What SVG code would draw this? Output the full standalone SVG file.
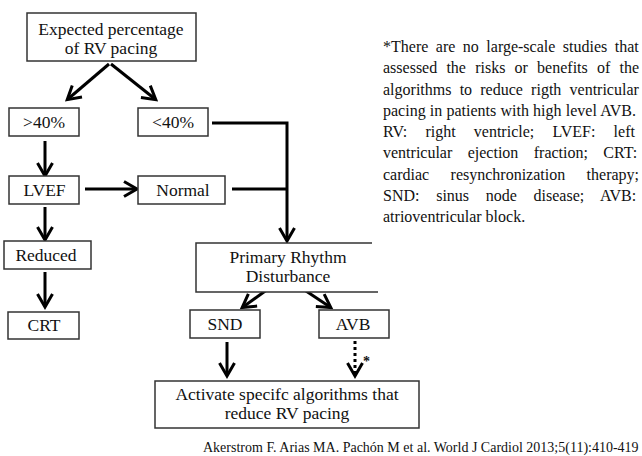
<svg xmlns="http://www.w3.org/2000/svg" width="642" height="456" viewBox="0 0 642 456">
<style>
  .box { fill: #fff; stroke: #333; stroke-width: 1.5; }
  .lbl { font-family: "Liberation Serif", "Times New Roman", serif; font-size: 17.5px; fill: #111; text-anchor: middle; }
  .note { font-family: "Liberation Serif", "Times New Roman", serif; font-size: 16px; fill: #111; }
  .cite { font-family: "Liberation Serif", "Times New Roman", serif; font-size: 14px; fill: #111; }
  .conn { fill: none; stroke: #000; stroke-width: 3; }
  .dot { stroke-dasharray: 3 3; }
</style>
<defs>
  <marker id="ah" viewBox="-2 -2 18 20" refX="12" refY="7.5" markerWidth="18" markerHeight="20" markerUnits="userSpaceOnUse" orient="auto">
    <path d="M0,0 L13,7.5 L0,15" fill="none" stroke="#000" stroke-width="3"/>
  </marker>
</defs>
<rect width="642" height="456" fill="#fff"/>

<g id="connectors">
  <line class="conn" x1="109" y1="64" x2="68" y2="99" marker-end="url(#ah)"/>
  <line class="conn" x1="111" y1="64" x2="155" y2="99" marker-end="url(#ah)"/>
  <line class="conn" x1="45" y1="141" x2="45" y2="175" marker-end="url(#ah)"/>
  <polyline class="conn" points="212,123 287,123 287,240" marker-end="url(#ah)"/>
  <line class="conn" x1="85" y1="189" x2="136" y2="189" marker-end="url(#ah)"/>
  <line class="conn" x1="232" y1="189" x2="287" y2="189"/>
  <line class="conn" x1="45" y1="207" x2="45" y2="239" marker-end="url(#ah)"/>
  <line class="conn" x1="45" y1="272" x2="45" y2="306" marker-end="url(#ah)"/>
  <line class="conn" x1="268" y1="289" x2="243" y2="307" marker-end="url(#ah)"/>
  <line class="conn" x1="303" y1="289" x2="330" y2="307" marker-end="url(#ah)"/>
  <line class="conn" x1="227" y1="342" x2="227" y2="375" marker-end="url(#ah)"/>
  <line class="conn dot" x1="355" y1="341" x2="355" y2="375" marker-end="url(#ah)"/>
  <text x="363" y="366" class="cite" font-weight="bold">*</text>
</g>

<g id="n-expected">
  <rect class="box" x="27" y="13" width="169" height="48"/>
  <text class="lbl" x="111" y="34.5">Expected percentage</text>
  <text class="lbl" x="111" y="54">of RV pacing</text>
</g>
<g id="n-gt40">
  <rect class="box" x="9" y="108" width="70" height="28"/>
  <text class="lbl" x="44" y="128">&gt;40%</text>
</g>
<g id="n-lt40">
  <rect class="box" x="138" y="108" width="70" height="28"/>
  <text class="lbl" x="173" y="128">&lt;40%</text>
</g>
<g id="n-lvef">
  <rect class="box" x="9" y="176" width="70" height="28"/>
  <text class="lbl" x="44.5" y="196">LVEF</text>
</g>
<g id="n-normal">
  <rect class="box" x="138" y="176" width="87" height="28"/>
  <text class="lbl" x="183" y="196">Normal</text>
</g>
<g id="n-reduced">
  <rect class="box" x="4" y="241" width="87" height="28"/>
  <text class="lbl" x="46" y="261">Reduced</text>
</g>
<g id="n-crt">
  <rect class="box" x="8" y="312" width="71" height="27"/>
  <text class="lbl" x="44" y="331">CRT</text>
</g>
<g id="n-primary">
  <path d="M372,243 L196,243 L196,292 L378,292" fill="#fff" stroke="#333" stroke-width="1.5"/>
  <text class="lbl" x="288" y="263">Primary Rhythm</text>
  <text class="lbl" x="288" y="282">Disturbance</text>
</g>
<g id="n-snd">
  <rect class="box" x="190" y="310" width="70" height="28"/>
  <text class="lbl" x="225" y="330">SND</text>
</g>
<g id="n-avb">
  <rect class="box" x="319" y="310" width="70" height="28"/>
  <text class="lbl" x="353" y="330">AVB</text>
</g>
<g id="n-activate">
  <rect class="box" x="155" y="381" width="264" height="47"/>
  <text class="lbl" x="287" y="400">Activate specifc algorithms that</text>
  <text class="lbl" x="287" y="419">reduce RV pacing</text>
</g>

<g id="note">
  <text class="note" x="383" y="52" word-spacing="3.5">*There are no large-scale studies that</text>
  <text class="note" x="383" y="73.25" word-spacing="5.2">assessed the risks or benefits of the</text>
  <text class="note" x="383" y="94.5" word-spacing="4.2">algorithms to reduce rigth ventricular</text>
  <text class="note" x="383" y="115.75" word-spacing="0.2">pacing in patients with high level AVB.</text>
  <text class="note" x="383" y="137" word-spacing="14.2">RV: right ventricle; LVEF: left</text>
  <text class="note" x="383" y="158.25" word-spacing="11.4">ventricular ejection fraction; CRT:</text>
  <text class="note" x="383" y="179.5" word-spacing="17.4">cardiac resynchronization therapy;</text>
  <text class="note" x="383" y="200.75" word-spacing="12.7">SND: sinus node disease; AVB:</text>
  <text class="note" x="383" y="222">atrioventricular block.</text>
</g>

<text id="citation" class="cite" x="203" y="452">Akerstrom F. Arias MA. Pachón M et al. World J Cardiol 2013;5(11):410-419</text>
</svg>
